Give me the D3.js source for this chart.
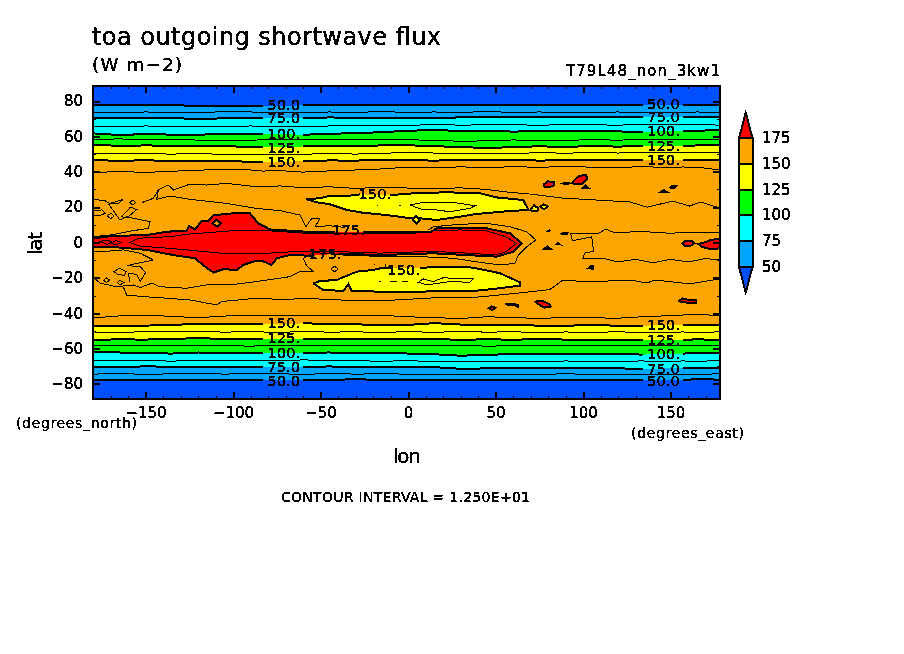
<!DOCTYPE html>
<html>
<head>
<meta charset="utf-8">
<script src="https://cdn.jsdelivr.net/npm/d3@7"></script>
<style>
  body { margin: 0; background: #fff; }
  text { font-family: "DejaVu Sans", sans-serif; fill: #000; }
</style>
</head>
<body>
<svg id="chart" width="904" height="654"></svg>
<script>
// longitudes the zonal contours are read at (-72 and 146 sit under the labels)
const bandLons = [-180,-165,-150,-135,-120,-105,-90,-83,-72,-60,-45,-30,-15,0,15,30,45,60,75,90,105,120,134,146,157,165,178.5];

// latitude of each zonal contour, northern hemisphere
const n50 = [77.8,77.8,77.8,77.7,77.2,77.2,77.3,77.4,77.4,77.5,77.7,77.8,77.7,77.7,77.8,77.7,77.7,77.8,77.7,77.7,77.6,77.6,77.6,77.7,77.7,77.8,77.8];
const n62 = [73.8,73.6,73.8,73.7,73.6,73.9,73.8,73.7,73.6,73.6,73.8,73.7,73.9,73.7,73.8,73.7,73.9,73.7,73.8,73.7,73.7,73.8,73.6,73.7,73.7,73.8,73.7];
const n75 = [70.5,70.4,70.6,70.3,69.9,70.2,70.4,70.3,70.2,70.5,70.7,70.6,70.4,70.3,70.2,70.8,71.0,71.1,70.9,71.0,70.9,70.8,70.9,71.0,71.0,71.2,71.1];
const n87 = [65.7,65.5,65.9,65.6,65.8,65.5,65.9,65.6,65.7,65.4,65.9,66.2,66.0,66.3,66.6,66.4,66.5,66.6,66.3,66.7,66.5,66.4,66.6,66.7,66.5,66.6,66.4];
const n100 = [61.7,60.8,61.3,61.0,60.9,61.5,61.4,61.4,61.4,60.9,61.5,61.8,62.4,63.2,63.6,63.1,63.3,62.7,63.0,62.9,63.1,62.8,62.6,62.9,62.9,63.2,63.6];
const n112 = [58.2,58.6,58.1,58.4,57.9,57.6,57.9,58.0,58.0,58.1,58.4,58.0,58.4,58.0,57.9,57.2,57.5,58.0,57.6,57.8,58.1,57.9,58.2,58.3,58.2,58.0,58.3];
const n125 = [55.4,54.6,54.9,54.7,54.3,54.6,53.9,53.8,53.8,54.3,54.8,54.5,54.9,55.0,54.4,54.1,53.3,54.0,54.4,54.0,54.6,54.2,54.7,54.7,54.5,54.9,55.2];
const n137 = [50.5,50.6,50.2,50.0,50.3,49.8,49.9,49.7,49.6,49.9,50.3,50.0,50.5,50.8,50.6,50.2,50.6,50.3,50.8,50.5,50.9,50.6,51.0,51.0,50.7,50.9,50.6];
const n150 = [46.6,46.2,46.5,46.1,46.3,46.0,45.7,45.6,45.6,46.0,46.4,46.3,46.8,46.6,46.3,46.7,46.4,46.8,46.3,46.6,46.5,46.9,46.6,46.7,46.6,46.9,46.7];
const n162 = [39.5,40.2,39.6,40.3,40.9,41.3,41.0,40.4,40.6,39.8,40.5,41.0,41.6,42.6,42.2,42.8,42.3,42.9,42.5,43.0,42.6,42.4,42.9,42.5,42.7,42.6,41.0];

// latitude of each zonal contour, southern hemisphere
const s162 = [-42.7,-41.5,-41.0,-41.8,-42.5,-41.6,-41.0,-41.2,-41.5,-41.3,-41.0,-41.4,-41.2,-42.0,-42.5,-43.0,-42.0,-42.4,-43.0,-42.3,-42.6,-42.8,-42.0,-41.5,-41.0,-40.8,-41.2];
const s150 = [-47.2,-47.0,-47.0,-46.6,-46.0,-46.3,-46.2,-46.2,-46.4,-45.7,-46.0,-46.3,-46.6,-46.6,-45.6,-46.4,-46.9,-46.7,-47.0,-47.0,-46.8,-47.0,-47.0,-46.8,-46.8,-46.6,-46.6];
const s137 = [-50.6,-50.9,-50.4,-50.6,-50.2,-50.7,-50.4,-50.6,-50.8,-50.3,-50.7,-50.5,-50.9,-50.4,-50.8,-50.3,-50.7,-50.5,-50.9,-50.6,-50.8,-50.5,-50.9,-50.8,-50.6,-50.9,-50.5];
const s125 = [-55.0,-54.8,-54.9,-54.4,-54.2,-54.4,-54.5,-54.6,-54.6,-54.3,-54.7,-54.4,-54.8,-54.6,-54.5,-55.1,-54.7,-55.0,-54.6,-54.9,-55.2,-54.9,-55.1,-55.1,-55.0,-54.8,-55.0];
const s112 = [-58.4,-58.1,-58.5,-58.2,-58.0,-58.3,-58.6,-58.4,-58.2,-58.5,-58.1,-58.4,-58.0,-58.3,-58.5,-58.2,-58.6,-58.4,-58.1,-58.5,-58.3,-58.0,-58.4,-58.3,-58.1,-58.4,-58.0];
const s100 = [-62.2,-62.2,-62.6,-62.8,-62.2,-62.4,-62.5,-62.5,-62.5,-62.3,-62.2,-62.4,-62.3,-62.8,-63.2,-64.0,-63.6,-63.0,-62.8,-63.1,-63.2,-63.0,-63.4,-63.0,-62.8,-62.6,-62.4];
const s87 = [-66.6,-66.9,-66.7,-67.1,-66.5,-66.8,-66.6,-66.6,-66.8,-66.4,-66.7,-66.9,-67.1,-66.9,-67.2,-67.4,-67.5,-67.1,-67.3,-67.0,-67.2,-67.1,-67.0,-67.2,-67.0,-67.1,-66.9];
const s75 = [-70.4,-70.6,-70.0,-70.3,-70.5,-70.2,-70.4,-70.4,-70.6,-70.3,-70.1,-70.4,-70.6,-70.3,-70.5,-71.4,-71.2,-70.9,-71.1,-71.2,-71.0,-71.2,-71.4,-71.2,-71.0,-71.1,-70.9];
const s62 = [-74.4,-74.2,-74.5,-74.3,-74.1,-74.4,-74.2,-74.2,-74.3,-74.5,-74.2,-74.4,-74.3,-74.4,-74.5,-74.4,-74.6,-74.4,-74.5,-74.3,-74.5,-74.4,-74.5,-74.6,-74.4,-74.5,-74.3];
const s50 = [-77.6,-77.7,-77.7,-77.6,-77.8,-77.7,-77.7,-77.8,-77.8,-77.6,-77.6,-77.4,-77.6,-77.6,-77.5,-77.7,-77.7,-77.6,-77.7,-77.7,-77.7,-77.7,-77.7,-77.7,-77.6,-77.4,-77.5];

// closed 150 and 175 contours as [lon, lat]; null = gap in the line for a label
const northYellow = [[-58.3,24.6],[-50.3,25],[-44.6,26.5],[-33.1,26.5],[-27.4,27.2],null,[-10.3,26.8],[2.9,27.8],[22.1,28.4],[41.1,27.8],[50.6,25.5],[65.9,24],[68.8,18.4],[58.3,17.8],[48.7,17],[37.3,15.9],[29.7,14.6],[16.4,12.7],[6.9,13.7],[-0.6,14],[-12,15.5],[-25.6,16.8],[-35,18.4],[-44.6,21.6],[-52,22.7],[-58.3,24.6]];
const southYellow = [[-54.1,-23.1],[-50.3,-21.8],[-40.8,-21.2],[-29.3,-16.5],[-19.8,-15.5],[-14.1,-14.2],[-10,-14.2],null,[6.9,-14.6],[14.5,-13.7],[33.5,-13.7],[41.1,-15],[52.6,-17.4],[64,-22.5],[64,-24.4],[48.8,-26.3],[37.3,-27.4],[3,-27.8],[-16,-27.8],[-32.2,-27.4],[-34.1,-23.6],[-37,-27.4],[-48.4,-26.8],[-54.1,-23.1]];
const redCore = [[-180,2.4],[-168.4,3.7],[-149.3,4.2],[-137.9,6.1],[-126.5,6.7],[-125.1,9.3],[-121.7,7.4],[-117.9,12.3],[-114,12.3],[-111.2,15.5],[-103.6,16.1],[-97.9,16.8],[-90.3,16.5],[-85.5,10.8],[-78.9,7.4],[-57.9,6.1],[-42,6.1],null,[-26,6.1],[1.1,6.1],[12.6,5.8],[16.4,8],[29.7,8.4],[45,8],[58.3,5.2],[65,-0.5],[60.2,-5.2],[50.7,-8],[33.5,-7.1],[14.5,-6.1],[-16,-7.1],[-39.9,-6.3],null,[-55,-7.5],[-67.4,-7.1],[-75,-8.9],[-77.9,-12.7],[-83.6,-10.3],[-88.4,-10.8],[-94.1,-12.7],[-97.9,-15.5],[-105.5,-15.1],[-111.2,-17],[-114,-15.1],[-117.9,-12.1],[-121.7,-8.9],[-134.1,-7.1],[-149.3,-4.2],[-166.4,-2.7],[-180,-2.7]];

// small closed cells along the contours, by fill
const redCells = [
  [[77.7,32.9],[79.8,34.6],[83.4,34],[83.5,32.4],[80.4,31.2],[77.9,31.6]],
  [[93.8,34],[97,37.2],[101.5,38.4],[102.5,36.2],[99.4,33.2],[95,33]],
  [[156.6,-0.5],[158.6,1.1],[162,1],[163.5,-0.5],[161,-2.1],[158,-1.9]],
  [[165.9,-0.8],[169.7,0.1],[173.5,1.6],[178.5,2],[178.5,-3.3],[172.6,-3.7],[167.8,-2.4]],
  [[73,-33.4],[76,-32.8],[80.4,-34.6],[81.6,-36.2],[78,-36.8],[75,-35.2]],
  [[155,-33],[157,-31.6],[160,-32.4],[164.6,-32.6],[164.6,-34],[160,-34],[156.5,-33.8]],
  [[46,-37.2],[47.8,-36.2],[50,-37],[48,-38.2]]
];
const orangeCells = [
  [[-111.8,10.8],[-109.5,12.8],[-107,11],[-109,9]]
];
const yellowCells = [
  [[70.2,19],[72,21],[74.2,19.6],[74,17.8],[70.8,17.6]],
  [[75.6,20.2],[77.6,21.6],[79.8,20.4],[77.8,18.8]],
  [[2.8,13],[4.6,14.8],[6.8,12.6],[5,10.8]]
];
const darkDots = [
  [[88.6,33.4],[90.6,33.9],[92.2,33.4],[90.4,32.9]],
  [[99.6,30.6],[101.4,32.2],[103.4,30.6]],
  [[149.8,31.2],[151,32],[153,31.8],[152,30.6],[150.4,30.6]],
  [[144.8,28.8],[146.2,29.6],[147.6,28.8]],
  [[80.4,6.7],[80.8,7],[81.4,6.7]],
  [[87.8,5],[89.4,5.6],[91,5.3],[90.6,4.6],[88,4.6]],
  [[85,-1],[85.8,-0.2],[86.8,-1.1]],
  [[77.4,-3.9],[79.6,-2.2],[81.8,-3.9]],
  [[103,-14.6],[105,-13.2],[105.6,-13.2],[105.6,-14.8]],
  [[55.6,-34.8],[60,-34.6],[63,-35.6],[63,-36.4],[61,-35.6],[57,-35.2]]
];

// thin contours (162.5, 137.5 and 187.5) that do not close the fills
const thinUpperNorth = [[-152.2,22.5],[-145.5,25],[-142.7,29.7],[-137,32.5],[-134,29.7],[-124.6,33],[-115,32.5],[-103.6,33.4],[-86.5,31.5],[-73,32],[-60,31],[-45,31.5],[-30,30.6],[-15,31.2],[0,30.8],[15,30.5],[30,30.9],[45,30],[58,28.4],[69.7,27.4],[88.6,25.1],[108,24],[126.9,22.9],[136.6,20],[151.4,23.4],[161,20.6],[167,22.9],[178.3,19.5]];
const thinLowerNorth = [[-142.7,29.7],[-143.6,24.4],[-136,26.3],[-124.6,24.4],[-103.6,22.1],[-86.5,19.3],[-73,18],[-61.7,15.5],[-58.3,8.9],[-55,13.7],[-50.3,13.7],[-53.1,8.9],[-45,9.5],[-36,8.5]];
const thinLobeNorth = [[-180,24.4],[-173.1,23.6],[-170.3,22.1],[-162.7,24.4],[-165.5,22.1],[-171.3,21.7],[-169.3,19.3],[-164.6,12.7],[-160.8,14.6],[-157,13.7],[-147.4,11.8],[-148.4,8],[-157,6.7],[-170.3,4.2],[-180,3.3]];
const thinEastTip = [[11.6,7.1],[14.5,8.9],[29.7,10.3],[45,10.8],[58.3,8.9],[67.8,6.1],[73.1,1.4],[67.8,-2.4],[63,-7.1],[61.1,-11.8],[52.6,-12.7],[41.1,-11.2],[25.9,-8.9],[6.9,-8],[-12.2,-8],[-37,-7.1],[-54,-5.6],[-59.8,-8.9],[-58,-13.1],[-54,-16.5],[-62,-16.5],[-67.4,-19.3],[-86.5,-22.1],[-101.7,-24],[-115,-24],[-126.5,-25.9],[-141.7,-25],[-146.5,-23],[-153,-25.5],[-157,-24],[-166.5,-25],[-176,-23],[-180,-19.3]];
const thinLowerSouth = [[-162.7,-25],[-160.8,-29.7],[-151.3,-30.6],[-137.9,-31.5],[-124.6,-32.5],[-109.3,-35.3],[-106.5,-33.4],[-86.5,-31.5],[-67.4,-32.5],[-62.9,-31.4],[-38.9,-32.5],[-16,-33],[12.6,-31.4],[41,-30.8],[64,-28.5],[81.1,-26.6],[88.6,-21.2],[102.3,-22.3],[126.9,-21.2],[136.6,-22.9],[141,-21.2],[161,-23.4],[178.3,-20.6]];
const thinLobeSouth = [[-180,-5.2],[-170.3,-4.8],[-162.7,-4.2],[-153,-6.1],[-145.5,-9.9],[-160.8,-13.1],[-153,-13.6],[-150,-17],[-153,-22],[-155,-18],[-159.8,-17.4],[-158.9,-22.1]];
const thinEastLobe = [[178.3,5.4],[160,5.8],[150,5.2],[134,6.2],[118,5.6],[113,7.5],[108,4.8],[93,5],[94,1],[105,3.2],[106,-5],[101,-6],[100,-9],[112,-9],[120,-11],[130,-9.5],[140,-11.5],[150,-9.5],[160,-11],[170,-9],[178.3,-10]];
// tiny dashes inside the yellow areas
const dashes = [[[-16.6,-21.8],[-15.4,-21.8]],[[-10.3,-22.1],[-6.5,-22.1]],[[-3.6,-22.1],[0,-22.1]],[[-18,21.2],[-17.2,21.2]],[[-5,21.2],[-4.2,21.2]],[[-19.6,-12.7],[-18.8,-12.7]],[[-13,-15],[-13,-12]]];
const thinOpen = [thinUpperNorth, thinLowerNorth, thinLobeNorth, thinEastTip, thinLowerSouth, thinLobeSouth, thinEastLobe].concat(dashes);
const innerRed = [[-158.9,-0.1],[-154.1,2.4],[-136,3.3],[-124.6,4.8],[-99.8,6.7],[-80.7,6.7],[-57.9,5.2],[-27.4,5.2],[1.1,5],[14.5,6.5],[29.7,7.1],[45,6.5],[55.8,3.3],[62,-0.5],[56,-5.2],[50,-7],[33.5,-6],[14.5,-5],[-16,-6],[-38.9,-5.2],[-56,-5.2],[-65.5,-5.2],[-88.4,-6.5],[-107.4,-6],[-130.3,-3.8],[-153.1,-2]];
const innerNorthYellow = [[1.1,21.2],[8.7,22.7],[25.8,22.7],[38.3,20.8],[35.4,19.3],[24,17.4],[16.4,18.4],[8.7,18.4]];
const innerSouthYellow = [[5.9,-22.5],[8.7,-20.6],[14.5,-22.1],[20.2,-19.9],[29.7,-20.6],[37,-20.6],[35.4,-22.5],[24,-22.1],[10.7,-24]];
const thinLoops = [
  innerRed, innerNorthYellow, innerSouthYellow,
  [[-176,0.6],[-172,1.4],[-169,0.2],[-172,-1.1]],
  [[-169.6,-0.3],[-167,1.2],[-164,0],[-167,-1.4]],
  [[-159,22.6],[-157.3,24],[-155.6,22.6],[-157.3,21.2]],
  [[-163.6,14.6],[-158.6,20],[-155,18.6],[-160.6,14]],
  [[-172,15],[-169.8,16.6],[-168,15],[-169.8,13.6]],
  [[-180,18],[-175,18.4],[-173,16.5],[-177,15],[-180,15]],
  [[-168,-16.5],[-165,-14.4],[-161,-16.5],[-162,-18.6],[-166,-18]],
  [[-166,-22.7],[-164.6,-21.4],[-162.4,-22.7],[-164.6,-24]],
  [[-174,-21.4],[-172.2,-20],[-170.4,-21.2],[-172.2,-22.6]],
  [[-44,-15],[-42,-13.4],[-40,-15],[-42,-16.6]]
];

// contour labels: lon, lat, text
const contourLabels = [
  [-71,77.7,"50.0"],[-71,70.3,"75.0"],[-71,61.3,"100."],[-71,53.4,"125."],[-71,45.5,"150."],
  [146,78.2,"50.0"],[146,70.9,"75.0"],[146,63,"100."],[146,54.5,"125."],[146,46.6,"150."],
  [-71,-45.5,"150."],[-71,-54,"125."],[-71,-62.4,"100."],[-71,-70.3,"75.0"],[-71,-78.2,"50.0"],
  [146,-46.6,"150."],[146,-55,"125."],[146,-63,"100."],[146,-71.5,"75.0"],[146,-78.2,"50.0"],
  [-18.9,27.4,"150."],[-34,7.1,"175."],[-47.4,-6.5,"175."],[-2.6,-15.5,"150."]
];

// colour scale
const levels = [50, 75, 100, 125, 150, 175];
const bandColors = ["#00a5ff", "#00ffff", "#00ff00", "#ffff00", "#ffa500"];
const lowColor = "#0050ff";
const highColor = "#ff0000";

const lonTicks = [-150, -100, -50, 0, 50, 100, 150];
const lonMinor = d3.range(-180, 180, 10);
const latTicks = [-80, -60, -40, -20, 0, 20, 40, 60, 80];
const latMinor = d3.range(-80, 90, 10);

// set the dimensions of the plot
const plotLeft = 93, plotRight = 720.4, plotTop = 86, plotBottom = 399;

const x = d3.scaleLinear().domain([-180, 178.5]).range([plotLeft, plotRight]);
const y = d3.scaleLinear().domain([-88.5, 88.5]).range([plotBottom, plotTop]);

const svg = d3.select("#chart");

// text gets a hard alpha edge so it looks like the bitmap plot font
const defs = svg.append("defs");
defs.append("filter").attr("id", "hard").attr("x", "-5%").attr("y", "-20%").attr("width", "110%").attr("height", "140%")
  .append("feComponentTransfer").append("feFuncA").attr("type", "discrete").attr("tableValues", "0 1 1 1");
defs.append("clipPath").attr("id", "plot-clip")
  .append("rect").attr("x", plotLeft).attr("y", plotTop).attr("width", plotRight - plotLeft).attr("height", plotBottom - plotTop);

const line = d3.line().defined(d => d !== null).x(d => x(d[0])).y(d => y(d[1]));
const closed = d3.line().defined(d => d !== null).x(d => x(d[0])).y(d => y(d[1])).curve(d3.curveLinearClosed);
const zonal = lats => bandLons.map((lon, i) => [lon, lats[i]]);

const plot = svg.append("g").attr("clip-path", "url(#plot-clip)").attr("shape-rendering", "crispEdges");

// fills, painted from the poles inwards
plot.append("rect").attr("x", plotLeft).attr("y", plotTop).attr("width", plotRight - plotLeft).attr("height", plotBottom - plotTop).attr("fill", lowColor);
[[n50, s50], [n75, s75], [n100, s100], [n125, s125], [n150, s150]].forEach(function (pair, i) {
  plot.append("path")
    .attr("d", closed(zonal(pair[0]).concat(zonal(pair[1]).reverse())))
    .attr("fill", bandColors[i]);
});
plot.append("path").attr("d", closed(northYellow.filter(d => d))).attr("fill", bandColors[3]);
plot.append("path").attr("d", closed(southYellow.filter(d => d))).attr("fill", bandColors[3]);
plot.append("path").attr("d", closed(redCore.filter(d => d))).attr("fill", highColor);

// thin intermediate contours
[n62, n87, n112, n137, n162, s162, s137, s112, s87, s62].forEach(function (lats) {
  plot.append("path").attr("d", line(zonal(lats))).attr("fill", "none").attr("stroke", "#000").attr("stroke-width", 1);
});
thinOpen.forEach(function (pts) {
  plot.append("path").attr("d", line(pts)).attr("fill", "none").attr("stroke", "#000").attr("stroke-width", 1);
});
thinLoops.forEach(function (pts) {
  plot.append("path").attr("d", closed(pts)).attr("fill", "none").attr("stroke", "#000").attr("stroke-width", 1);
});

// thick labelled contours, broken where the labels sit
[n50, n75, n100, n125, n150, s150, s125, s100, s75, s50].forEach(function (lats) {
  const pts = zonal(lats).map(d => (d[0] === -72 || d[0] === 146) ? null : d);
  plot.append("path").attr("d", line(pts)).attr("fill", "none").attr("stroke", "#000").attr("stroke-width", 2);
});
[northYellow, southYellow, redCore].forEach(function (pts) {
  plot.append("path").attr("d", line(pts)).attr("fill", "none").attr("stroke", "#000").attr("stroke-width", 2);
});

// small closed cells
[[redCells, highColor], [orangeCells, bandColors[4]], [yellowCells, bandColors[3]], [darkDots, "#000"]].forEach(function (group) {
  group[0].forEach(function (pts) {
    plot.append("path").attr("d", closed(pts)).attr("fill", group[1]).attr("stroke", "#000").attr("stroke-width", 2);
  });
});

// axes: all ticks point into the plot, on all four sides
const axes = svg.append("g");
function addAxis(axis, tx, ty, width) {
  const g = axes.append("g").attr("transform", "translate(" + tx + "," + ty + ")").call(axis);
  g.select(".domain").remove();
  g.selectAll(".tick line").attr("stroke-width", width).attr("shape-rendering", "crispEdges");
  return g;
}
addAxis(d3.axisBottom(x).tickValues(lonMinor).tickSize(-3).tickFormat(""), 0, plotBottom, 1);
addAxis(d3.axisTop(x).tickValues(lonMinor).tickSize(-3).tickFormat(""), 0, plotTop, 1);
addAxis(d3.axisLeft(y).tickValues(latMinor).tickSize(-3).tickFormat(""), plotLeft, 0, 1);
addAxis(d3.axisRight(y).tickValues(latMinor).tickSize(-3).tickFormat(""), plotRight, 0, 1);
addAxis(d3.axisTop(x).tickValues(lonTicks).tickSize(-7).tickFormat(""), 0, plotTop, 2);
addAxis(d3.axisRight(y).tickValues(latTicks).tickSize(-7).tickFormat(""), plotRight, 0, 2);

const minus = d => String(d).replace("-", "\u2212");
const lonAxis = addAxis(d3.axisBottom(x).tickValues(lonTicks).tickSize(-7).tickPadding(8).tickFormat(minus), 0, plotBottom, 2);
const latAxis = addAxis(d3.axisLeft(y).tickValues(latTicks).tickSize(-7).tickPadding(10).tickFormat(minus), plotLeft, 0, 2);
lonAxis.selectAll("text").attr("font-size", 15).attr("font-family", "DejaVu Sans").attr("filter", "url(#hard)");
latAxis.selectAll("text").attr("font-size", 15).attr("font-family", "DejaVu Sans").attr("filter", "url(#hard)");

axes.append("rect").attr("x", plotLeft).attr("y", plotTop).attr("width", plotRight - plotLeft).attr("height", plotBottom - plotTop)
  .attr("fill", "none").attr("stroke", "#000").attr("stroke-width", 2).attr("shape-rendering", "crispEdges");

// contour labels
svg.append("g").selectAll("text").data(contourLabels).enter().append("text")
  .attr("x", d => x(d[0])).attr("y", d => y(d[1]))
  .attr("text-anchor", "middle").attr("dominant-baseline", "central")
  .attr("font-size", 14.5).attr("textLength", 33).attr("lengthAdjust", "spacingAndGlyphs")
  .attr("filter", "url(#hard)")
  .text(d => d[2]);

// colour bar
const cb = d3.scaleLinear().domain([50, 175]).range([266.7, 138.3]);
const cbLeft = 739, cbRight = 752.5;
const cbG = svg.append("g").attr("stroke", "#000").attr("stroke-width", 2).attr("shape-rendering", "crispEdges");
bandColors.forEach(function (c, i) {
  cbG.append("rect")
    .attr("x", cbLeft).attr("width", cbRight - cbLeft)
    .attr("y", cb(levels[i + 1])).attr("height", cb(levels[i]) - cb(levels[i + 1]))
    .attr("fill", c);
});
const cbMid = (cbLeft + cbRight) / 2;
cbG.append("path").attr("fill", highColor)
  .attr("d", "M" + cbLeft + "," + cb(175) + "L" + cbMid + "," + cb(200) + "L" + cbRight + "," + cb(175) + "Z");
cbG.append("path").attr("fill", lowColor)
  .attr("d", "M" + cbLeft + "," + cb(50) + "L" + cbMid + "," + cb(25) + "L" + cbRight + "," + cb(50) + "Z");
svg.append("g").selectAll("text").data(levels).enter().append("text")
  .attr("x", 762).attr("y", d => cb(d)).attr("dominant-baseline", "central")
  .attr("font-size", 15).attr("filter", "url(#hard)")
  .text(d => d);

// titles and captions
function label(str, px, py, size, len) {
  return svg.append("text").attr("x", px).attr("y", py).attr("font-size", size)
    .attr("textLength", len).attr("lengthAdjust", "spacing").attr("filter", "url(#hard)").text(str);
}
label("toa outgoing shortwave flux", 92, 45, 24, 349);
label("(W m\u22122)", 92, 71, 18, 90);
label("T79L48_non_3kw1", 566, 76, 15, 154);
label("(degrees_north)", 16, 428, 14, 121);
label("(degrees_east)", 631, 438, 14, 113);
label("lon", 393, 463, 20, 28);
label("CONTOUR INTERVAL = 1.250E+01", 281, 502, 14, 249);
svg.append("text").attr("transform", "translate(42,255) rotate(-90)")
  .attr("font-size", 20).attr("textLength", 23).attr("filter", "url(#hard)").text("lat");
</script>
</body>
</html>
